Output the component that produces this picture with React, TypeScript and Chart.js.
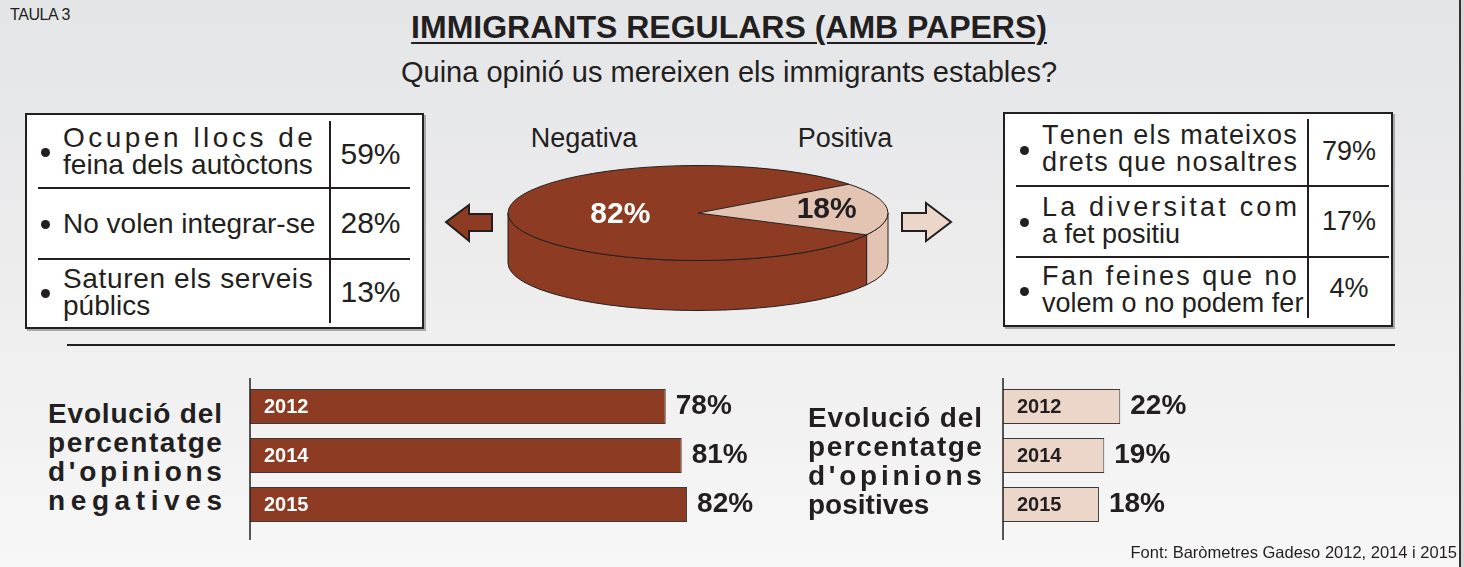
import React, { useEffect, useRef } from "react";
import { Chart, registerables } from "chart.js";
Chart.register(...registerables);

// ---------- data ----------
const pieLabels = ["Negativa", "Positiva"];
const pieValues = [82, 18];
const negReasons = ["Ocupen llocs de\nfeina dels autòctons", "No volen integrar-se", "Saturen els serveis\npúblics"];
const negReasonValues = [59, 28, 13];
const posReasons = ["Tenen els mateixos\ndrets que nosaltres", "La diversitat com\na fet positiu", "Fan feines que no\nvolem o no podem fer"];
const posReasonValues = [79, 17, 4];
const years = ["2012", "2014", "2015"];
const negEvolution = [78, 81, 82];
const posEvolution = [22, 19, 18];

// ---------- styles ----------
const FONT = "'Liberation Sans', Arial, Helvetica, sans-serif";
const INK = "#231f20";
const NEG = "#8e3b23";
const POS_PIE = "#e3c4b3";
const POS_BAR = "#ecd6ca";
const K = 0.25; // vertical squash of the pie
const DEPTH = 50; // pie thickness

const measureCtx: CanvasRenderingContext2D | null =
  typeof document !== "undefined" ? document.createElement("canvas").getContext("2d") : null;
function textWidth(t: string, font: string) {
  if (!measureCtx) return 0;
  measureCtx.font = font;
  return measureCtx.measureText(t).width;
}

function SpreadLine({ text, font, width, lineHeight }: any) {
  const natural = textWidth(text, font);
  if (natural < width * 0.72) {
    return <div style={{ font, lineHeight: lineHeight + "px", whiteSpace: "pre", width }}>{text}</div>;
  }
  return (
    <div style={{ font, lineHeight: lineHeight + "px", display: "flex", justifyContent: "space-between", width, whiteSpace: "pre" }}>
      {Array.from(text).map((c: any, i: number) => (
        <span key={i}>{c === " " ? "\u00a0" : c}</span>
      ))}
    </div>
  );
}

function TextBlock({ text, font, width, lineHeight }: any) {
  return (
    <div>
      {text.split("\n").map((l: string, i: number) => (
        <SpreadLine key={i} text={l} font={font} width={width} lineHeight={lineHeight} />
      ))}
    </div>
  );
}

// ---------- pie ----------
const pie3dPlugin = {
  id: "pie3d",
  beforeDatasetsDraw(chart: any) {
    const ctx = chart.ctx as CanvasRenderingContext2D;
    const arcs = chart.getDatasetMeta(0).data as any[];
    const { x: cx, y: cy, outerRadius: r } = arcs[0];
    const ry = r * K;
    arcs.forEach((arc) => {
      const s = arc.startAngle, e = arc.endAngle;
      for (const shift of [-4 * Math.PI, -2 * Math.PI, 0, 2 * Math.PI, 4 * Math.PI]) {
        const a = Math.max(s + shift, 0), b = Math.min(e + shift, Math.PI);
        if (b <= a) continue;
        ctx.beginPath();
        ctx.ellipse(cx, cy, r, ry, 0, a, b, false);
        ctx.ellipse(cx, cy + DEPTH, r, ry, 0, b, a, true);
        ctx.closePath();
        ctx.fillStyle = arc.options.backgroundColor;
        ctx.fill();
        ctx.strokeStyle = INK;
        ctx.lineWidth = 1;
        ctx.stroke();
      }
    });
    ctx.save();
    ctx.translate(cx, cy);
    ctx.scale(1, K);
    ctx.translate(-cx, -cy);
  },
  afterDatasetsDraw(chart: any) {
    const ctx = chart.ctx as CanvasRenderingContext2D;
    ctx.restore();
    const arcs = chart.getDatasetMeta(0).data as any[];
    const { x: cx, y: cy, outerRadius: r } = arcs[0];
    const ry = r * K;
    ctx.save();
    ctx.strokeStyle = INK;
    ctx.lineWidth = 1;
    ctx.beginPath();
    ctx.ellipse(cx, cy, r, ry, 0, 0, 2 * Math.PI);
    ctx.stroke();
    arcs.forEach((arc) => {
      const a = arc.startAngle;
      ctx.beginPath();
      ctx.moveTo(cx, cy);
      ctx.lineTo(cx + r * Math.cos(a), cy + ry * Math.sin(a));
      ctx.stroke();
    });
    ctx.font = `bold 30px ${FONT}`;
    ctx.textAlign = "center";
    ctx.textBaseline = "middle";
    arcs.forEach((arc, i) => {
      const mid = (arc.startAngle + arc.endAngle) / 2;
      const f = i === 0 ? 0.41 : 0.68;
      ctx.fillStyle = i === 0 ? "#ffffff" : INK;
      ctx.fillText(`${chart.data.datasets[0].data[i]}%`, cx + f * r * Math.cos(mid), cy + f * ry * Math.sin(mid));
    });
    ctx.restore();
  },
};

function Pie3D() {
  const ref = useRef<HTMLCanvasElement>(null);
  useEffect(() => {
    const chart = new Chart(ref.current as HTMLCanvasElement, {
      type: "pie",
      data: { labels: pieLabels, datasets: [{ data: pieValues, backgroundColor: [NEG, POS_PIE], borderWidth: 0 }] },
      options: {
        animation: false,
        responsive: true,
        maintainAspectRatio: false,
        rotation: 117.4,
        layout: { padding: 10 },
        events: [],
        plugins: { legend: { display: false }, tooltip: { enabled: false } },
      } as any,
      plugins: [pie3dPlugin as any],
    });
    return () => chart.destroy();
  }, []);
  return (
    <div style={{ position: "absolute", left: 498, top: 13, width: 400, height: 400, pointerEvents: "none" }}>
      <canvas ref={ref} />
    </div>
  );
}

// ---------- bars ----------
function makeBarDecor(labelColor: string) {
  return {
    id: "barDecor",
    afterDatasetsDraw(chart: any) {
      const ctx = chart.ctx as CanvasRenderingContext2D;
      const meta = chart.getDatasetMeta(0);
      const ds = chart.data.datasets[0].data;
      const x0 = chart.scales.x.getPixelForValue(0);
      const { top, bottom } = chart.chartArea;
      ctx.save();
      ctx.textBaseline = "middle";
      ctx.textAlign = "left";
      meta.data.forEach((bar: any, i: number) => {
        ctx.font = `bold 20px ${FONT}`;
        ctx.fillStyle = labelColor;
        ctx.fillText(String(chart.data.labels[i]), x0 + 14, bar.y + 1);
        ctx.font = `bold 28px ${FONT}`;
        ctx.fillStyle = INK;
        ctx.fillText(`${ds[i]}%`, bar.x + 10, bar.y);
      });
      ctx.strokeStyle = INK;
      ctx.lineWidth = 1.5;
      ctx.beginPath();
      ctx.moveTo(x0, top - 4);
      ctx.lineTo(x0, bottom + 11);
      ctx.stroke();
      ctx.restore();
    },
  };
}

function BarChart({ values, color, labelColor, left }: any) {
  const ref = useRef<HTMLCanvasElement>(null);
  useEffect(() => {
    const chart = new Chart(ref.current as HTMLCanvasElement, {
      type: "bar",
      data: {
        labels: years,
        datasets: [{ data: values, backgroundColor: color, borderColor: "#3a3a3a", borderWidth: 1, barPercentage: 0.714, categoryPercentage: 1 }],
      },
      options: {
        indexAxis: "y",
        animation: false,
        responsive: true,
        maintainAspectRatio: false,
        events: [],
        layout: { padding: { left: 10, right: 17, top: 12, bottom: 21 } },
        scales: { x: { display: false, min: 0, max: 100 }, y: { display: false } },
        plugins: { legend: { display: false }, tooltip: { enabled: false } },
      } as any,
      plugins: [makeBarDecor(labelColor) as any],
    });
    return () => chart.destroy();
  }, []);
  return (
    <div style={{ position: "absolute", left, top: 370, width: 560, height: 180 }}>
      <canvas ref={ref} />
    </div>
  );
}

// ---------- tables ----------
function ReasonTable({ labels, values, box, inner, rowHeights, rowShift, labelLeft, labelWidth, bulletLeft, labelFont, valueFont }: any) {
  return (
    <div
      style={{
        position: "absolute",
        ...box,
        boxSizing: "border-box",
        border: `2px solid ${INK}`,
        background: "#ffffff",
        boxShadow: "2px 2px 0 #a8a8a8",
      }}
    >
      <div style={{ position: "absolute", ...inner, display: "flex", flexDirection: "column" }}>
        {labels.map((lab: string, i: number) => (
          <div
            key={i}
            style={{ height: rowHeights[i], boxSizing: "border-box", display: "flex", borderTop: i > 0 ? `2px solid ${INK}` : "none" }}
          >
            <div
              style={{
                width: 291,
                position: "relative",
                display: "flex",
                alignItems: "center",
                paddingTop: Math.max(rowShift[i], 0) * 2,
                paddingBottom: Math.max(-rowShift[i], 0) * 2,
                boxSizing: "border-box",
              }}
            >
              <div
                style={{
                  position: "absolute",
                  left: bulletLeft,
                  top: `calc(50% + ${rowShift[i]}px)`,
                  width: 9,
                  height: 9,
                  marginTop: -3,
                  borderRadius: "50%",
                  background: INK,
                }}
              />
              <div style={{ marginLeft: labelLeft }}>
                <TextBlock text={lab} font={labelFont} width={labelWidth} lineHeight={27} />
              </div>
            </div>
            <div
              style={{
                flex: 1,
                borderLeft: `2px solid ${INK}`,
                display: "flex",
                alignItems: "center",
                justifyContent: "center",
                font: valueFont,
              }}
            >
              {values[i]}%
            </div>
          </div>
        ))}
      </div>
    </div>
  );
}

export default function App() {
  useEffect(() => {
    document.body.style.margin = "0";
    document.body.style.overflow = "hidden";
  }, []);
  const evoFont = `bold 28px ${FONT}`;
  return (
    <div
      style={{
        position: "absolute",
        left: 0,
        top: 0,
        width: 1464,
        height: 567,
        overflow: "hidden",
        background: "linear-gradient(to bottom, #e4e5e7 0%, #ececed 45%, #f7f7f7 100%)",
        fontFamily: FONT,
        color: INK,
      }}
    >
      <div style={{ position: "absolute", left: 10, top: 7, font: `16px ${FONT}`, lineHeight: "16px", letterSpacing: -0.4 }}>TAULA 3</div>
      <div style={{ position: "absolute", left: 0, top: 11, width: 1458, textAlign: "center", font: `bold 32px ${FONT}`, lineHeight: "32px" }}>
        <span style={{ textDecoration: "underline", textDecorationThickness: 2, textUnderlineOffset: 4 }}>
          IMMIGRANTS REGULARS (AMB PAPERS)
        </span>
      </div>
      <div style={{ position: "absolute", left: 0, top: 58, width: 1458, textAlign: "center", font: `29px ${FONT}`, lineHeight: "29px" }}>
        Quina opinió us mereixen els immigrants estables?
      </div>

      <ReasonTable
        labels={negReasons}
        values={negReasonValues}
        box={{ left: 25, top: 113, width: 399, height: 216 }}
        inner={{ left: 11, top: 6, right: 12, bottom: 4 }}
        rowHeights={[66, 72, 65]}
        rowShift={[-3, 0, 0]}
        labelLeft={25}
        labelWidth={250}
        bulletLeft={3}
        labelFont={`28px ${FONT}`}
        valueFont={`30px ${FONT}`}
      />
      <ReasonTable
        labels={posReasons}
        values={posReasonValues}
        box={{ left: 1003, top: 112, width: 390, height: 215 }}
        inner={{ left: 11, top: 5, right: 2, bottom: 7 }}
        rowHeights={[66, 72, 62]}
        rowShift={[-3, 0, 2]}
        labelLeft={26}
        labelWidth={255}
        bulletLeft={4}
        labelFont={`27px ${FONT}`}
        valueFont={`27px ${FONT}`}
      />

      <div style={{ position: "absolute", left: 484, top: 125, width: 200, textAlign: "center", font: `27px ${FONT}`, lineHeight: "27px" }}>
        {pieLabels[0]}
      </div>
      <div style={{ position: "absolute", left: 745, top: 125, width: 200, textAlign: "center", font: `27px ${FONT}`, lineHeight: "27px" }}>
        {pieLabels[1]}
      </div>

      <svg width={1464} height={567} style={{ position: "absolute", left: 0, top: 0, pointerEvents: "none" }}>
        <polygon points="446,222 469,205 469,214 492,214 492,231 469,231 469,241" fill={NEG} stroke={INK} strokeWidth={2} strokeLinejoin="miter" />
        <polygon points="902,213 926,213 926,203 951,222 926,241 926,231 902,231" fill={POS_BAR} stroke={INK} strokeWidth={2} strokeLinejoin="miter" />
      </svg>

      <Pie3D />

      <div style={{ position: "absolute", left: 67, top: 344, width: 1328, height: 2, background: INK }} />

      <div style={{ position: "absolute", left: 48, top: 399 }}>
        <TextBlock text={"Evolució del\npercentatge\nd'opinions\nnegatives"} font={evoFont} width={174} lineHeight={29} />
      </div>
      <div style={{ position: "absolute", left: 808, top: 403 }}>
        <TextBlock text={"Evolució del\npercentatge\nd'opinions\npositives"} font={evoFont} width={174} lineHeight={29} />
      </div>

      <BarChart values={negEvolution} color={NEG} labelColor="#ffffff" left={240} />
      <BarChart values={posEvolution} color={POS_BAR} labelColor={INK} left={993} />

      <div style={{ position: "absolute", right: 7, top: 544, font: `16.5px ${FONT}`, lineHeight: "16px", textAlign: "right", whiteSpace: "nowrap" }}>
        Font: Baròmetres Gadeso 2012, 2014 i 2015
      </div>
      <div style={{ position: "absolute", left: 1459, top: 0, width: 2, height: 567, background: "#333333" }} />
      <div style={{ position: "absolute", left: 1461, top: 0, width: 3, height: 567, background: "#d6d6d6" }} />
    </div>
  );
}
